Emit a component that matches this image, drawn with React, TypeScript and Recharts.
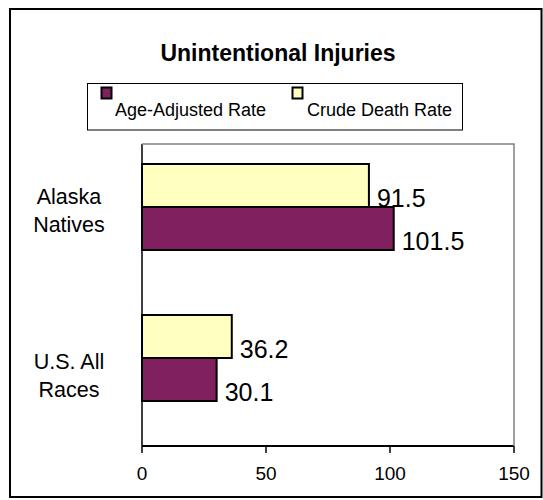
import { Bar, BarChart, LabelList, XAxis, YAxis } from "recharts";

const categories = ["Alaska Natives", "U.S. All Races"];
const ageAdjusted = [101.5, 30.1];
const crudeDeath = [91.5, 36.2];
const xTicks = [0, 50, 100, 150];

const rows = categories.map((name, i) => ({
  name,
  crude: crudeDeath[i],
  age: ageAdjusted[i],
}));

const FONT = '"Liberation Sans", Arial, Helvetica, sans-serif';
const PURPLE = "#80205f";
const YELLOW = "#ffffc0";

// the two captions don't sit on the band centre the same way in the original
const captionShift: Record<string, number> = {
  "Alaska Natives": -16,
  "U.S. All Races": -2,
};

function CategoryTick(props: any) {
  const { y, payload } = props;
  const text: string = payload.value;
  const cut = text.lastIndexOf(" ");
  const lines = [text.slice(0, cut), text.slice(cut + 1)];
  const base = y + (captionShift[text] ?? -9);
  return (
    <g>
      {lines.map((l, i) => (
        <text
          key={i}
          x={69}
          y={base + i * 28}
          textAnchor="middle"
          fontSize={21.5}
          fontFamily={FONT}
          fill="#000"
        >
          {l}
        </text>
      ))}
    </g>
  );
}

function ValueLabel(props: any) {
  const { x, y, width, height, value } = props;
  if (value == null) return null;
  return (
    <text
      x={x + width + 8}
      y={y + height}
      fontSize={25}
      fontFamily={FONT}
      fill="#000"
    >
      {value}
    </text>
  );
}

export default function App() {
  return (
    <div
      style={{
        position: "absolute",
        left: 0,
        top: 0,
        width: 543,
        height: 500,
        background: "#fff",
        fontFamily: FONT,
      }}
    >
      <BarChart
        width={543}
        height={500}
        data={rows}
        layout="vertical"
        barGap={0}
        margin={{ top: 144, right: 29, bottom: 24, left: 10 }}
      >
        <XAxis
          type="number"
          domain={[0, 150]}
          ticks={xTicks}
          height={30}
          axisLine={{ stroke: "#000", strokeWidth: 2 }}
          tickLine={{ stroke: "#000", strokeWidth: 1.5 }}
          tickSize={7}
          tickMargin={14}
          tick={{ fontSize: 19, fill: "#000", fontFamily: FONT }}
        />
        <YAxis
          type="category"
          dataKey="name"
          width={132}
          axisLine={{ stroke: "#000", strokeWidth: 1.5 }}
          tickLine={false}
          tick={<CategoryTick />}
        />
        <Bar
          dataKey="crude"
          fill={YELLOW}
          stroke="#000"
          strokeWidth={2}
          barSize={43}
          isAnimationActive={false}
        >
          <LabelList dataKey="crude" content={<ValueLabel />} />
        </Bar>
        <Bar
          dataKey="age"
          fill={PURPLE}
          stroke="#000"
          strokeWidth={2}
          barSize={43}
          isAnimationActive={false}
        >
          <LabelList dataKey="age" content={<ValueLabel />} />
        </Bar>
        {/* empty third slot, Excel leaves room for it under each pair */}
        <Bar dataKey="spare" barSize={25} fill="none" isAnimationActive={false} />
      </BarChart>

      <svg
        width={543}
        height={500}
        style={{ position: "absolute", left: 0, top: 0, pointerEvents: "none" }}
      >
        <rect x={10} y={9} width={531.5} height={488} fill="none" stroke="#000" strokeWidth={2} />
        <text
          x={278}
          y={61}
          textAnchor="middle"
          fontSize={23}
          fontWeight="bold"
          fontFamily={FONT}
          fill="#000"
        >
          Unintentional Injuries
        </text>

        <rect x={87.5} y={83.5} width={375} height={46.5} fill="none" stroke="#000" strokeWidth={1} />
        <rect x={101.5} y={87.5} width={10} height={11} fill={PURPLE} stroke="#000" strokeWidth={2} />
        <text x={115} y={116} fontSize={18} fontFamily={FONT} fill="#000">
          Age-Adjusted Rate
        </text>
        <rect x={292.5} y={87.5} width={10} height={11} fill={YELLOW} stroke="#000" strokeWidth={2} />
        <text x={307} y={116} fontSize={18} fontFamily={FONT} fill="#000">
          Crude Death Rate
        </text>

        {/* plot area frame, top and right sides */}
        <polyline points="142,144 514,144 514,446" fill="none" stroke="#808080" strokeWidth={1.5} />
      </svg>
    </div>
  );
}
